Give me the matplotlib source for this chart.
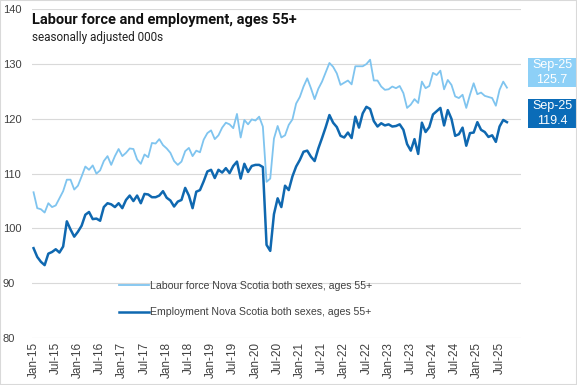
import matplotlib
matplotlib.use("Agg")
import matplotlib.pyplot as plt
from matplotlib.patches import Rectangle

plt.rcParams['font.family'] = ['Liberation Sans', 'DejaVu Sans']

years = list(range(15, 26))
months = ["Jan", "Feb", "Mar", "Apr", "May", "Jun", "Jul", "Aug", "Sep", "Oct", "Nov", "Dec"]
dates = [f"{m}-{y:02d}" for y in years for m in months][:129]

labour_force = [
    106.6, 103.7, 103.5, 102.9, 104.6, 103.9, 104.2, 105.5, 106.8, 108.9, 108.9, 107.1,
    107.8, 109.5, 111.3, 110.7, 111.5, 110.0, 110.6, 112.3, 113.2, 111.6, 113.2, 114.5,
    113.2, 113.8, 114.6, 114.5, 112.6, 111.8, 113.5, 113.0, 115.6, 115.5, 116.3, 115.2,
    114.6, 113.8, 112.3, 111.6, 112.2, 114.1, 114.7, 113.2, 114.2, 113.9, 116.2, 117.4,
    117.9, 116.3, 117.0, 118.4, 119.3, 119.0, 118.3, 120.9, 116.6, 119.8, 119.0, 119.9,
    119.7, 120.4, 118.6, 108.5, 109.1, 116.4, 118.7, 116.6, 117.0, 118.9, 119.9, 122.8,
    124.0, 125.9, 127.4, 125.6, 123.6, 125.5, 126.8, 128.5, 130.2, 129.5, 128.3, 126.2,
    126.6, 127.0, 126.3, 129.6, 129.6, 129.6, 130.0, 130.8, 127.0, 127.0, 125.9, 125.3,
    125.4, 125.9, 125.6, 126.0, 124.7, 122.0, 122.6, 123.6, 122.9, 126.8, 125.6, 126.0,
    128.4, 128.0, 128.8, 125.4, 127.1, 126.2, 124.1, 123.8, 124.4, 122.0, 124.4, 126.5,
    124.5, 124.8, 124.2, 124.0, 123.8, 122.4, 125.3, 126.8, 125.7,
]

employment = [
    96.4, 94.8, 93.9, 93.3, 95.4, 95.7, 96.2, 95.6, 96.7, 101.3, 99.8, 98.5,
    99.4, 100.5, 102.5, 103.0, 101.7, 101.8, 101.4, 103.9, 104.6, 104.4, 103.9, 104.6,
    103.7, 105.2, 106.0, 105.0, 106.0, 104.6, 106.3, 106.2, 105.7, 105.7, 106.0, 106.8,
    105.6, 105.1, 104.0, 104.9, 105.2, 107.4, 106.0, 103.7, 106.7, 107.0, 108.6, 110.4,
    110.7, 109.2, 110.7, 110.2, 111.0, 110.1, 111.4, 112.2, 109.1, 111.8, 110.3, 111.4,
    111.6, 111.6, 111.2, 97.0, 95.9, 102.6, 105.5, 103.9, 107.8, 107.0, 109.5, 111.3,
    112.5, 114.0, 114.2, 113.1, 112.3, 114.6, 116.5, 118.5, 120.7, 119.3, 118.5, 116.9,
    116.6, 117.5, 116.5, 120.4, 118.4, 121.0, 122.2, 121.8, 119.6, 118.6, 119.2, 118.8,
    119.0, 118.6, 118.7, 119.0, 118.0, 115.4, 114.2, 116.3, 113.6, 119.3, 117.6, 118.5,
    120.8, 121.4, 122.0, 118.8, 121.6, 120.0, 116.9, 117.2, 118.4, 115.1, 117.4, 117.5,
    119.4, 118.0, 117.6, 116.7, 117.0, 115.8, 118.6, 119.8, 119.4,
]

lf_label = "Labour force Nova Scotia both sexes, ages 55+"
emp_label = "Employment Nova Scotia both sexes, ages 55+"
title = "Labour force and employment, ages 55+"
subtitle = "seasonally adjusted 000s"

lf_color = "#7fc4ef"
emp_color = "#0f68b0"
lf_box = "#8dd0f7"
emp_box = "#0b6cb8"

W, H = 577, 385
fig = plt.figure(figsize=(W / 100, H / 100), dpi=100)
ax = fig.add_axes([31.7 / W, 1 - 338 / H, (521 - 31.7) / W, (338 - 9.3) / H])

x = list(range(len(dates)))
ax.plot(x, labour_force, color=lf_color, lw=1.3, label=lf_label, solid_joinstyle='round')
ax.plot(x, employment, color=emp_color, lw=1.8, label=emp_label, solid_joinstyle='round')

ax.set_xlim(-0.5, 131.8)
ax.set_ylim(80, 140)
ax.set_yticks(range(80, 141, 10))
ax.set_xticks(x[::6])
ax.set_xticklabels(dates[::6], rotation=90, fontsize=8.5, color="#404040")
ax.tick_params(axis='x', length=0, pad=3)
ax.tick_params(axis='y', length=0, pad=20.7, labelsize=8, labelcolor="#404040")
for lab in ax.get_yticklabels():
    lab.set_horizontalalignment('left')
for s in ax.spines.values():
    s.set_visible(False)
ax.grid(axis='y', color="#d9d9d9", lw=0.8)
ax.set_axisbelow(True)

leg = ax.legend(loc='upper left', bbox_to_anchor=((119 - 31.7) / (521 - 31.7), (338 - 281) / (338 - 9.3)),
                frameon=False, fontsize=7.6, handlelength=2.8, handletextpad=0.1,
                labelspacing=1.55, borderaxespad=0, borderpad=0)
for t in leg.get_texts():
    t.set_color("#404040")

fig.text(32 / W, 1 - 20 / H, title, fontsize=10.5, fontweight='bold', va='center', ha='left',
         family=['Roboto', 'DejaVu Sans'], color="#111111")
fig.text(32 / W, 1 - 38 / H, subtitle, fontsize=8.5, va='center', ha='left',
         family=['Roboto', 'DejaVu Sans'], color="#222222")

# end-value label boxes
for (y0, y1), col, val in [((58, 87), lf_box, labour_force[-1]), ((99, 128), emp_box, employment[-1])]:
    fig.patches.append(Rectangle((528 / W, 1 - y1 / H), (576 - 528) / W, (y1 - y0) / H,
                                 transform=fig.transFigure, facecolor=col, edgecolor='none'))
    fig.text(552 / W, 1 - (y0 + y1) / 2 / H, f"{dates[-1]}\n{val:.1f}", color='white', fontsize=9,
             ha='center', va='center', linespacing=1.25)

fig.patches.append(Rectangle((0, 0), 1, 1, transform=fig.transFigure, fill=False,
                             edgecolor="#d9d9d9", lw=1.5))

fig.savefig("out.png", dpi=100)
